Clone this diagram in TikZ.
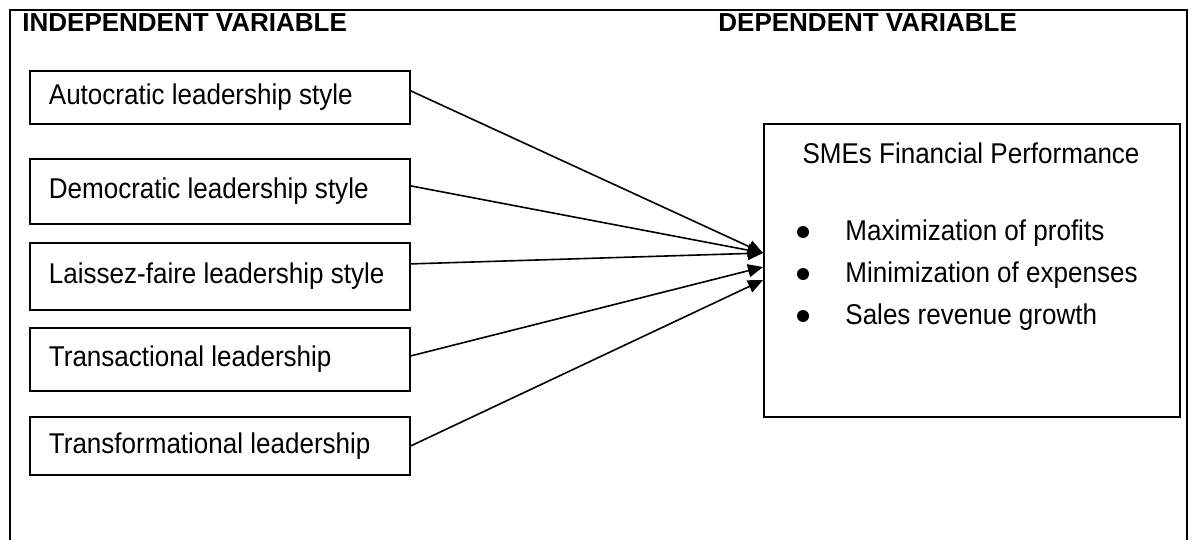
\documentclass[tikz,border=0pt]{standalone}
\usepackage{fontspec}
\setmainfont{Liberation Sans}
\newfontfamily\bodyfont[FakeStretch=0.91]{Liberation Sans}
\usetikzlibrary{arrows.meta}

\tikzset{
  varbox/.style={draw, line width=0.9pt, anchor=north west, text width=171pt, align=flush left,
    inner xsep=9.5pt, inner ysep=0pt, font={\bodyfont\fontsize{14.3}{16}\selectfont}},
  heading/.style={anchor=base west, inner sep=0pt, font={\fontsize{13}{13}\selectfont\bfseries}},
  perfitem/.style={anchor=base west, inner sep=0pt, font={\bodyfont\fontsize{14.3}{14.3}\selectfont}},
  dot/.style={circle, fill, inner sep=0pt, minimum size=6pt},
  link/.style={line width=0.8pt, -{Triangle[length=7.5pt,width=6.5pt]}}
}

\begin{document}
\begin{tikzpicture}[x=0.5pt, y=-0.5pt]
\useasboundingbox (0,0) rectangle (1197,540);

\draw [line width=1.3pt] (10,540) -- (10,10) -- (1187,10) -- (1187,540);

\node [heading] (indep) at (22,32) {INDEPENDENT VARIABLE};
\node [heading] (dep) at (718,32) {DEPENDENT VARIABLE};


\node [varbox, minimum height=26.5pt] (auto) at (29,70) {Autocratic leadership style};
\node [varbox, minimum height=32.5pt] (demo) at (29,158) {Democratic leadership style};
\node [varbox, minimum height=33.5pt] (laissez) at (29,242) {Laissez-faire leadership style};
\node [varbox, minimum height=31.5pt] (transac) at (29,327) {Transactional leadership};
\node [varbox, minimum height=29pt] (transf) at (29,416) {Transformational leadership};


\node [draw, line width=0.9pt, anchor=north west, minimum width=208pt, minimum height=146.5pt,
inner sep=0pt] (perf) at (763,123) {};

\node [anchor=base, inner sep=0pt, font={\bodyfont\fontsize{14.3}{14.3}\selectfont}] (perftitle)
 at (971,163) {SMEs Financial Performance};

\node [perfitem] (profits) at (845,240) {Maximization of profits};
\node [perfitem] (expenses) at (845,282) {Minimization of expenses};
\node [perfitem] (sales) at (845,324) {Sales revenue growth};

\node [dot] (dot1) at (803,232) {};
\node [dot] (dot2) at (803,274) {};
\node [dot] (dot3) at (803,316) {};


\coordinate (in1) at (763,253);
\coordinate (in2) at (763,267);
\coordinate (in3) at (763,280);

\draw [link] ([yshift=3.25pt]auto.east) -- (in1);
\draw [link] ([yshift=2.75pt]demo.east) -- (in1);
\draw [link] ([yshift=6.25pt]laissez.east) -- (in1);
\draw [link] ([yshift=1.75pt]transac.east) -- (in2);
\draw [link] (transf.east) -- (in3);

\end{tikzpicture}
\end{document}
